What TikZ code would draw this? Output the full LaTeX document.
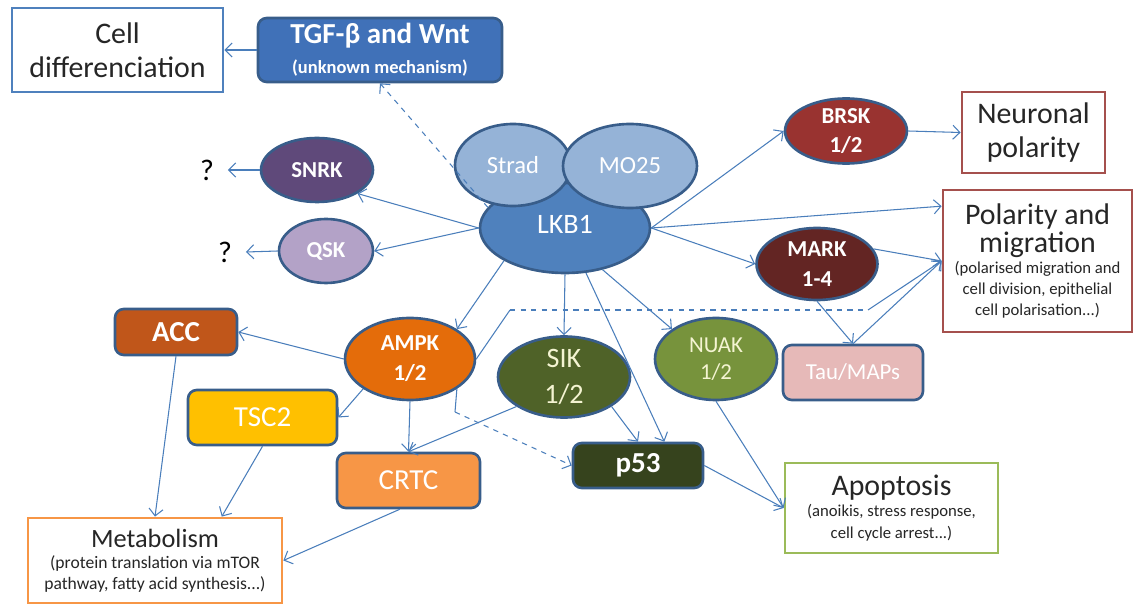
\documentclass[tikz,border=0pt]{standalone}
\usepackage{fontspec}
\setmainfont{Carlito}
\usetikzlibrary{shapes.geometric,arrows.meta}
\definecolor{lineblue}{HTML}{4A7EBB}
\definecolor{rimblue}{HTML}{385D8A}
\definecolor{tgfblue}{HTML}{4071B8}
\definecolor{lkbblue}{HTML}{4F81BD}
\definecolor{subblue}{HTML}{95B3D7}
\definecolor{snrkpurple}{HTML}{5F497A}
\definecolor{qskpurple}{HTML}{B3A2C7}
\definecolor{brskred}{HTML}{993330}
\definecolor{markred}{HTML}{632523}
\definecolor{accorange}{HTML}{C0561A}
\definecolor{ampkorange}{HTML}{E46C0A}
\definecolor{tscyellow}{HTML}{FFC000}
\definecolor{crtcorange}{HTML}{F79646}
\definecolor{sikgreen}{HTML}{4F6228}
\definecolor{nuakgreen}{HTML}{77933C}
\definecolor{taupink}{HTML}{E6B9B8}
\definecolor{pdark}{HTML}{36431D}
\definecolor{paletext}{HTML}{F4F4D2}
\definecolor{difblue}{HTML}{4F81BD}
\definecolor{polred}{HTML}{A5504D}
\definecolor{apogreen}{HTML}{9BBB59}
\definecolor{metorange}{HTML}{F79646}
\newcommand\bigtxt{\fontsize{17}{19.5}\selectfont}
\newcommand\smalltxt{\fontsize{9.5}{11.5}\selectfont}
\tikzset{
  >={Straight Barb[length=4pt,width=8pt]},
  link/.style={->,draw=lineblue,line width=0.6pt},
  kinase/.style={ellipse,draw=rimblue,line width=1.5pt,text=white,align=center,inner sep=0pt,
    font=\bfseries\fontsize{13}{17}\selectfont},
  factor/.style={rectangle,rounded corners=5pt,draw=rimblue,line width=1.5pt,text=white,inner sep=0pt,
    font=\bfseries\fontsize{16.5}{19}\selectfont},
  outcome/.style={rectangle,draw,line width=1.6pt,fill=white,text=black!85,align=center,inner sep=0pt},
}
\begin{document}
\begin{tikzpicture}[x=0.02cm,y=-0.02cm]
  \useasboundingbox (0,0) rectangle (1134,604);
  \node[outcome,draw=difblue,minimum width=4.22cm,minimum height=1.68cm,font=\bigtxt] (Cell) at (117.5,50) {Cell\\differenciation};
  \node[factor,fill=tgfblue,minimum width=4.88cm,minimum height=1.28cm,align=center] (TGF) at (380,50)
    {TGF-β and Wnt\\[-2pt]{\fontsize{10.5}{12}\selectfont (unknown mechanism)}};
  \node[outcome,draw=polred,minimum width=2.86cm,minimum height=1.62cm,font=\bigtxt] (Neur) at (1033.5,132.5) {Neuronal\\polarity};
  \node[outcome,draw=polred,minimum width=3.78cm,minimum height=2.84cm] (Pol) at (1037.5,261)
    {\bigtxt Polarity and\\ \bigtxt migration\\ \smalltxt (polarised migration and\\ \smalltxt cell division, epithelial\\ \smalltxt cell polarisation...)};
  \node[outcome,draw=apogreen,minimum width=4.26cm,minimum height=1.8cm] (Apop) at (891.5,508)
    {\bigtxt Apoptosis\\ \smalltxt (anoikis, stress response,\\ \smalltxt cell cycle arrest...)};
  \node[outcome,draw=metorange,minimum width=5.08cm,minimum height=1.7cm] (Metab) at (155,560.5)
    {\fontsize{15}{17}\selectfont Metabolism\\ \fontsize{10}{12}\selectfont (protein translation via mTOR\\ \fontsize{10}{12}\selectfont pathway, fatty acid synthesis...)};

  \node[kinase,fill=lkbblue,minimum width=3.4cm,minimum height=1.8cm,font=\fontsize{16}{18}\selectfont] (LKB1) at (565,228) {\raisebox{4pt}{LKB1}};
  \node[kinase,fill=subblue,minimum width=2.32cm,minimum height=1.64cm,font=\fontsize{14}{16}\selectfont] (Strad) at (513,165) {Strad};
  \node[kinase,fill=subblue,minimum width=2.68cm,minimum height=1.68cm,font=\fontsize{14}{16}\selectfont] (MO25) at (630,166) {MO25};
  \node[kinase,fill=snrkpurple,minimum width=2.24cm,minimum height=1.28cm] (SNRK) at (317,170) {SNRK};
  \node[kinase,fill=qskpurple,minimum width=1.88cm,minimum height=1.28cm] (QSK) at (326,251) {QSK};
  \node[kinase,fill=brskred,minimum width=2.44cm,minimum height=1.3cm] (BRSK) at (846,131) {BRSK\\1/2};
  \node[kinase,fill=markred,minimum width=2.42cm,minimum height=1.44cm] (MARK) at (817,264) {MARK\\1-4};
  \node[kinase,fill=ampkorange,minimum width=2.6cm,minimum height=1.64cm] (AMPK) at (410,359) {AMPK\\1/2};
  \node[kinase,fill=sikgreen,minimum width=2.64cm,minimum height=1.62cm,text=paletext,font=\fontsize{16}{20}\selectfont] (SIK) at (564,377) {SIK\\1/2};
  \node[kinase,fill=nuakgreen,minimum width=2.44cm,minimum height=1.64cm,text=paletext,font=\fontsize{13}{15.5}\selectfont] (NUAK) at (716,359) {NUAK\\1/2};

  \node[factor,fill=accorange,minimum width=2.44cm,minimum height=0.92cm] (ACC) at (176,332) {ACC};
  \node[factor,fill=tscyellow,minimum width=2.98cm,minimum height=1.1cm,font=\fontsize{16.5}{19}\selectfont] (TSC2) at (262.5,417.5) {TSC2};
  \node[factor,fill=crtcorange,minimum width=2.86cm,minimum height=1.1cm,font=\fontsize{16.5}{19}\selectfont] (CRTC) at (408.5,480.5) {CRTC};
  \node[factor,fill=taupink,minimum width=2.8cm,minimum height=1.1cm,font=\fontsize{13}{15}\selectfont] (Tau) at (853,372.5) {Tau/MAPs};
  \node[factor,fill=pdark,minimum width=2.6cm,minimum height=0.9cm] (p53) at (638,465.5) {p53};

  \node[inner sep=0pt,outer sep=8pt,font=\bigtxt] (unkA) at (207,170) {?};
  \node[inner sep=0pt,outer sep=8pt,font=\bigtxt] (unkB) at (225,252) {?};
  \coordinate (bendA) at (510,310);
  \coordinate (bendB) at (868,310);
  \coordinate (ampkLow) at (455,412);

  \draw[link] (TGF.west) -- (Cell.east);
  \draw[link,dashed] (LKB1.165) -- (TGF.south);
  \draw[link] (LKB1.west) -- (SNRK.south east);
  \draw[link] (LKB1.west) -- (QSK.east);
  \draw[link] (SNRK.west) -- (unkA.east);
  \draw[link] (QSK.west) -- (unkB.east);
  \draw[link] (LKB1.east) -- (BRSK.west);
  \draw[link] (BRSK.east) -- (Neur.west);
  \draw[link] (LKB1.east) -- ([yshift=-10pt]Pol.north west);
  \draw[link] (LKB1.east) -- (MARK.west);
  \draw[link] (MARK.15) -- (Pol.west);
  \draw[link] (MARK.south) -- (Tau.north);
  \draw[link] (Tau.north) -- (Pol.west);
  \draw[draw=lineblue,line width=0.6pt] (AMPK.east) -- (bendA);
  \draw[draw=lineblue,line width=0.6pt,dashed] (bendA) -- (bendB);
  \draw[link] (bendB) -- (Pol.west);
  \draw[link] (LKB1.south west) -- (AMPK.north east);
  \draw[link] (LKB1.south) -- (SIK.north);
  \draw[link] (LKB1.-65) -- ([xshift=15pt]p53.north);
  \draw[link] (LKB1.-48) -- (NUAK.north west);
  \draw[link] (SIK.south east) -- (p53.north);
  \draw[link] (SIK.south west) -- (CRTC.north);
  \draw[link] (AMPK.south) -- (CRTC.north);
  \draw[link] (AMPK.west) -- (ACC.east);
  \draw[link] (AMPK.south west) -- (TSC2.east);
  \draw[draw=lineblue,line width=0.6pt] (AMPK.south east) -- (ampkLow);
  \draw[link,dashed] (ampkLow) -- (p53.west);
  \draw[link] (ACC.south) -- (Metab.north);
  \draw[link] (TSC2.south) -- ([xshift=38pt]Metab.north);
  \draw[link] ([xshift=-5pt]CRTC.south) -- (Metab.east);
  \draw[link] (NUAK.south) -- (Apop.west);
  \draw[link] (p53.east) -- (Apop.west);
\end{tikzpicture}
\end{document}
